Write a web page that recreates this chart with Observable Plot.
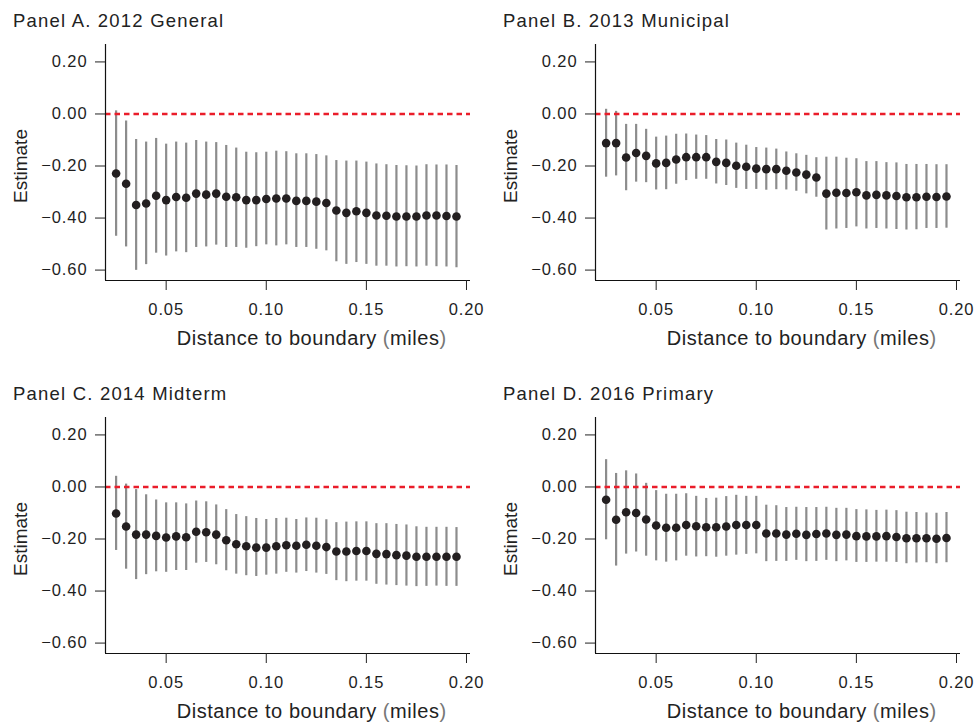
<!DOCTYPE html>
<html><head><meta charset="utf-8">
<script src="https://cdn.jsdelivr.net/npm/d3@7"></script>
<script src="https://cdn.jsdelivr.net/npm/@observablehq/plot@0.6"></script>
<style>
body{margin:0;background:#fff;}
#wrap{position:relative;width:978px;height:722px;font-family:"Liberation Sans",Arial,Helvetica,sans-serif;color:#222;overflow:hidden;}
.panel{position:absolute;width:489px;height:349px;}
.panel svg{position:absolute;left:0;top:0;}
.title{position:absolute;left:13px;top:12px;font-size:18.5px;line-height:17px;letter-spacing:1.2px;white-space:nowrap;}
.xlab{position:absolute;left:311.7px;top:330px;font-size:20px;line-height:17px;letter-spacing:0.55px;white-space:nowrap;transform:translateX(-50%);}
.xlab .p{color:#777;}
.ylab{position:absolute;left:27px;top:166px;font-size:19px;line-height:17px;white-space:nowrap;transform-origin:0 0;transform:rotate(-90deg) translate(-50%,-15px);}
</style></head>
<body><div id="wrap"></div>
<script>
const distance = [0.025,0.030,0.035,0.040,0.045,0.050,0.055,0.060,0.065,0.070,0.075,0.080,0.085,0.090,0.095,0.100,0.105,0.110,0.115,0.120,0.125,0.130,0.135,0.140,0.145,0.150,0.155,0.160,0.165,0.170,0.175,0.180,0.185,0.190,0.195];

const estA = [-0.229,-0.268,-0.350,-0.344,-0.314,-0.331,-0.319,-0.322,-0.306,-0.310,-0.306,-0.318,-0.320,-0.331,-0.331,-0.327,-0.325,-0.325,-0.334,-0.334,-0.337,-0.342,-0.371,-0.380,-0.374,-0.380,-0.390,-0.391,-0.394,-0.394,-0.394,-0.390,-0.390,-0.392,-0.394];
const hiA  = [0.012,-0.027,-0.098,-0.108,-0.094,-0.116,-0.108,-0.112,-0.102,-0.108,-0.110,-0.121,-0.131,-0.147,-0.149,-0.147,-0.143,-0.145,-0.153,-0.153,-0.156,-0.161,-0.179,-0.181,-0.181,-0.185,-0.192,-0.195,-0.198,-0.199,-0.200,-0.195,-0.196,-0.196,-0.198];
const loA  = [-0.470,-0.511,-0.601,-0.579,-0.535,-0.546,-0.530,-0.533,-0.513,-0.511,-0.504,-0.513,-0.513,-0.516,-0.510,-0.503,-0.507,-0.503,-0.513,-0.513,-0.520,-0.526,-0.568,-0.578,-0.571,-0.578,-0.585,-0.585,-0.588,-0.587,-0.588,-0.585,-0.587,-0.588,-0.591];

const estB = [-0.112,-0.112,-0.167,-0.150,-0.161,-0.190,-0.188,-0.175,-0.166,-0.166,-0.166,-0.184,-0.188,-0.199,-0.203,-0.210,-0.212,-0.212,-0.218,-0.225,-0.233,-0.244,-0.306,-0.303,-0.304,-0.301,-0.313,-0.311,-0.313,-0.315,-0.320,-0.320,-0.318,-0.319,-0.317];
const hiB  = [0.018,0.010,-0.040,-0.040,-0.059,-0.089,-0.085,-0.078,-0.077,-0.081,-0.083,-0.098,-0.100,-0.112,-0.120,-0.129,-0.131,-0.135,-0.146,-0.153,-0.159,-0.168,-0.166,-0.166,-0.170,-0.172,-0.183,-0.183,-0.187,-0.188,-0.194,-0.194,-0.194,-0.195,-0.195];
const loB  = [-0.243,-0.238,-0.295,-0.262,-0.264,-0.292,-0.291,-0.270,-0.256,-0.251,-0.251,-0.269,-0.275,-0.286,-0.290,-0.290,-0.293,-0.291,-0.292,-0.297,-0.307,-0.320,-0.446,-0.442,-0.440,-0.434,-0.442,-0.440,-0.442,-0.444,-0.446,-0.445,-0.440,-0.440,-0.439];

const estC = [-0.102,-0.152,-0.183,-0.183,-0.188,-0.194,-0.190,-0.193,-0.172,-0.174,-0.183,-0.205,-0.220,-0.228,-0.233,-0.233,-0.228,-0.224,-0.226,-0.222,-0.226,-0.231,-0.248,-0.248,-0.246,-0.246,-0.257,-0.258,-0.262,-0.264,-0.268,-0.268,-0.268,-0.268,-0.268];
const hiC  = [0.041,0.011,-0.010,-0.030,-0.050,-0.061,-0.061,-0.065,-0.054,-0.057,-0.069,-0.087,-0.106,-0.114,-0.121,-0.125,-0.121,-0.120,-0.125,-0.119,-0.120,-0.126,-0.137,-0.135,-0.134,-0.134,-0.141,-0.141,-0.144,-0.146,-0.153,-0.155,-0.155,-0.155,-0.156];
const loC  = [-0.244,-0.316,-0.356,-0.337,-0.326,-0.328,-0.321,-0.321,-0.293,-0.290,-0.299,-0.322,-0.335,-0.341,-0.344,-0.339,-0.335,-0.328,-0.331,-0.325,-0.331,-0.336,-0.360,-0.364,-0.362,-0.362,-0.374,-0.377,-0.379,-0.381,-0.383,-0.382,-0.381,-0.382,-0.382];

const estD = [-0.049,-0.126,-0.097,-0.100,-0.125,-0.148,-0.157,-0.157,-0.146,-0.151,-0.155,-0.155,-0.152,-0.146,-0.146,-0.146,-0.179,-0.179,-0.183,-0.180,-0.184,-0.181,-0.179,-0.184,-0.183,-0.189,-0.190,-0.190,-0.189,-0.192,-0.197,-0.197,-0.197,-0.199,-0.196];
const hiD  = [0.105,0.052,0.062,0.050,0.014,-0.014,-0.028,-0.028,-0.026,-0.036,-0.044,-0.043,-0.037,-0.032,-0.036,-0.036,-0.070,-0.072,-0.079,-0.078,-0.079,-0.079,-0.078,-0.082,-0.082,-0.087,-0.088,-0.090,-0.089,-0.091,-0.097,-0.098,-0.100,-0.101,-0.098];
const loD  = [-0.203,-0.304,-0.258,-0.250,-0.266,-0.284,-0.289,-0.284,-0.266,-0.269,-0.268,-0.270,-0.266,-0.262,-0.259,-0.257,-0.287,-0.286,-0.286,-0.282,-0.287,-0.286,-0.282,-0.287,-0.284,-0.290,-0.290,-0.289,-0.289,-0.290,-0.295,-0.292,-0.291,-0.295,-0.291];

const panelTitles = ["Panel A. 2012 General","Panel B. 2013 Municipal","Panel C. 2014 Midterm","Panel D. 2016 Primary"];
const xTicks = [0.05,0.10,0.15,0.20];
const yTicks = [0.20,0.00,-0.20,-0.40,-0.60];
const xLabel = "Distance to boundary";
const xUnit = "miles";
const yLabel = "Estimate";

const series = [[estA,loA,hiA],[estB,loB,hiB],[estC,loC,hiC],[estD,loD,hiD]];
const offsets = [[0,0],[490,0],[0,372.6],[490,372.6]];
const xDomain = [0.0197,0.202];
const yDomain = [-0.64,0.267];
const fmtY = d => (d < 0 ? "\u2212" : "") + Math.abs(d).toFixed(2);

const wrap = document.getElementById("wrap");
series.forEach(([est,lo,hi],i) => {
  const data = distance.map((d,k) => ({d, est: est[k], lo: lo[k], hi: hi[k]}));
  const panel = document.createElement("div");
  panel.className = "panel";
  panel.style.left = offsets[i][0] + "px";
  panel.style.top = offsets[i][1] + "px";
  const chart = Plot.plot({
    width: 489, height: 330,
    marginLeft: 105, marginRight: 19, marginTop: 44, marginBottom: 50,
    style: {fontFamily: '"Liberation Sans", Arial, Helvetica, sans-serif', fontSize: "16.5px", color: "#1e1e1e", background: "transparent", letterSpacing: "0.9px"},
    x: {domain: xDomain},
    y: {domain: yDomain},
    marks: [
      Plot.ruleX(data, {x: "d", y1: "lo", y2: "hi", stroke: "#8c8c8c", strokeWidth: 2.2}),
      Plot.ruleY([0], {stroke: "#ea1d2a", strokeWidth: 2.5, strokeDasharray: "5.5,4"}),
      Plot.dot(data, {x: "d", y: "est", r: 4.3, fill: "#231f20", stroke: null}),
      Plot.ruleX([xDomain[0]], {stroke: "#111", strokeWidth: 1.2}),
      Plot.ruleY([yDomain[0]], {stroke: "#111", strokeWidth: 1.2}),
      Plot.axisX({ticks: xTicks, tickSize: 10, tickPadding: 13, tickFormat: d3.format(".2f"), label: null, stroke: "#222"}),
      Plot.axisY({ticks: yTicks, tickSize: 10, tickPadding: 8, tickFormat: fmtY, label: null, stroke: "#222"})
    ]
  });
  panel.appendChild(chart);
  const t = document.createElement("div");
  t.className = "title"; t.textContent = panelTitles[i];
  panel.appendChild(t);
  const xl = document.createElement("div");
  xl.className = "xlab";
  xl.innerHTML = xLabel + ' <span class="p">(</span>' + xUnit + '<span class="p">)</span>';
  panel.appendChild(xl);
  const yl = document.createElement("div");
  yl.className = "ylab"; yl.textContent = yLabel;
  panel.appendChild(yl);
  wrap.appendChild(panel);
});
</script></body></html>
